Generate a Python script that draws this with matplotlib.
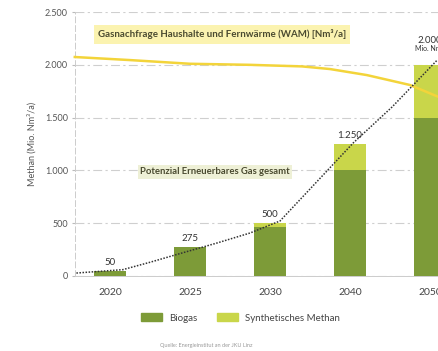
import numpy as np
import matplotlib.pyplot as plt
from matplotlib.patches import Patch

plt.rcParams['font.family'] = ['Lato', 'DejaVu Sans']

years = ["2020", "2025", "2030", "2040", "2050"]
biogas = [50, 275, 460, 1000, 1500]
synth = [0, 0, 40, 250, 500]
totals = ["50", "275", "500", "1.250", "2.000"]

# dotted trend "Potenzial Erneuerbares Gas gesamt" (x in category units)
pot_x = [-0.42, 0.16, 0.5, 0.91, 1.34, 1.75, 2.125, 3.04, 3.525, 4.09]
pot_y = [28, 60, 130, 220, 313, 407, 521, 1260, 1600, 2045]

# yellow demand line
dem_x = [-0.44, 0.25, 1.0, 1.75, 2.4, 2.75, 3.21, 3.75, 4.11]
dem_y = [2074, 2045, 2010, 2000, 1985, 1960, 1903, 1809, 1695]

C_BIO = "#7d9b38"
C_SYN = "#c9d64a"
C_DEM = "#f3d43a"

fig = plt.figure(figsize=(4.39, 3.51), dpi=100)
ax = fig.add_axes([75 / 439, 0.2137, 395 / 439, 0.752])

x = np.arange(len(years))
ax.bar(x, biogas, width=0.4, color=C_BIO, zorder=2)
ax.bar(x, synth, width=0.4, bottom=biogas, color=C_SYN, zorder=2)

for xi, b, s, t in zip(x, biogas, synth, totals):
    dy = 14 if t == "2.000" else 3
    ax.annotate(t, (xi, b + s), xytext=(0, dy), textcoords="offset points",
                ha="center", va="bottom", fontsize=7, color="#333333")
ax.annotate("Mio. Nm³", (x[-1], biogas[-1] + synth[-1]), xytext=(0, 9),
            textcoords="offset points", ha="center", va="bottom",
            fontsize=5, color="#333333")

ax.plot(dem_x, dem_y, color=C_DEM, lw=1.8, zorder=3, clip_on=False)
ax.plot(pot_x, pot_y, color="#333333", lw=1.1, ls=(0, (1, 1)), zorder=4)

ax.text(1.4, 2290, "Gasnachfrage Haushalte und Fernwärme (WAM) [Nm³/a]",
        ha="center", va="center", fontsize=7, fontweight="bold", color="#4a4a30",
        bbox=dict(boxstyle="square,pad=0.45", fc="#fbf3b0", ec="none"), zorder=5)
ax.text(1.31, 985, "Potenzial Erneuerbares Gas gesamt",
        ha="center", va="center", fontsize=6.8, fontweight="bold", color="#4a4a30",
        bbox=dict(boxstyle="square,pad=0.25", fc="#eef0d6", ec="none"), zorder=5)

ax.set_xlim(-0.4375, 4.5)
ax.set_ylim(0, 2500)
ax.set_yticks([0, 500, 1000, 1500, 2000, 2500])
ax.set_yticklabels(["0", "500", "1.000", "1.500", "2.000", "2.500"])
ax.set_xticks(x)
ax.set_xticklabels(years)
ax.tick_params(axis="y", labelsize=6.5, labelcolor="#555555", length=2,
               color="#bbbbbb", pad=3)
ax.tick_params(axis="x", labelsize=7.5, labelcolor="#444444", length=0, pad=9)
ax.grid(axis="y", color="#cfcfcf", lw=0.8, ls=(0, (8, 3, 2, 3)), zorder=1)
for sp in ["top", "right"]:
    ax.spines[sp].set_visible(False)
ax.spines["left"].set_color("#cccccc")
ax.spines["left"].set_linestyle((0, (6, 3)))
ax.spines["left"].set_linewidth(0.7)
ax.spines["bottom"].set_color("#cccccc")
ax.spines["bottom"].set_linewidth(0.7)
ax.set_ylabel("Methan (Mio. Nm³/a)", fontsize=6.5, color="#555555", labelpad=6)

handles = [Patch(color=C_BIO, label="Biogas"), Patch(color=C_SYN, label="Synthetisches Methan")]
fig.legend(handles=handles, loc="center", bbox_to_anchor=(0.547, 0.094), ncol=2,
           frameon=False, fontsize=7, handlelength=2.2, handleheight=0.9,
           columnspacing=2.0, handletextpad=0.7, labelcolor="#444444")

fig.text(0.47, 0.017, "Quelle: Energieinstitut an der JKU Linz", ha="center",
         va="center", fontsize=4, color="#999999")

fig.savefig("out.png", dpi=100)
